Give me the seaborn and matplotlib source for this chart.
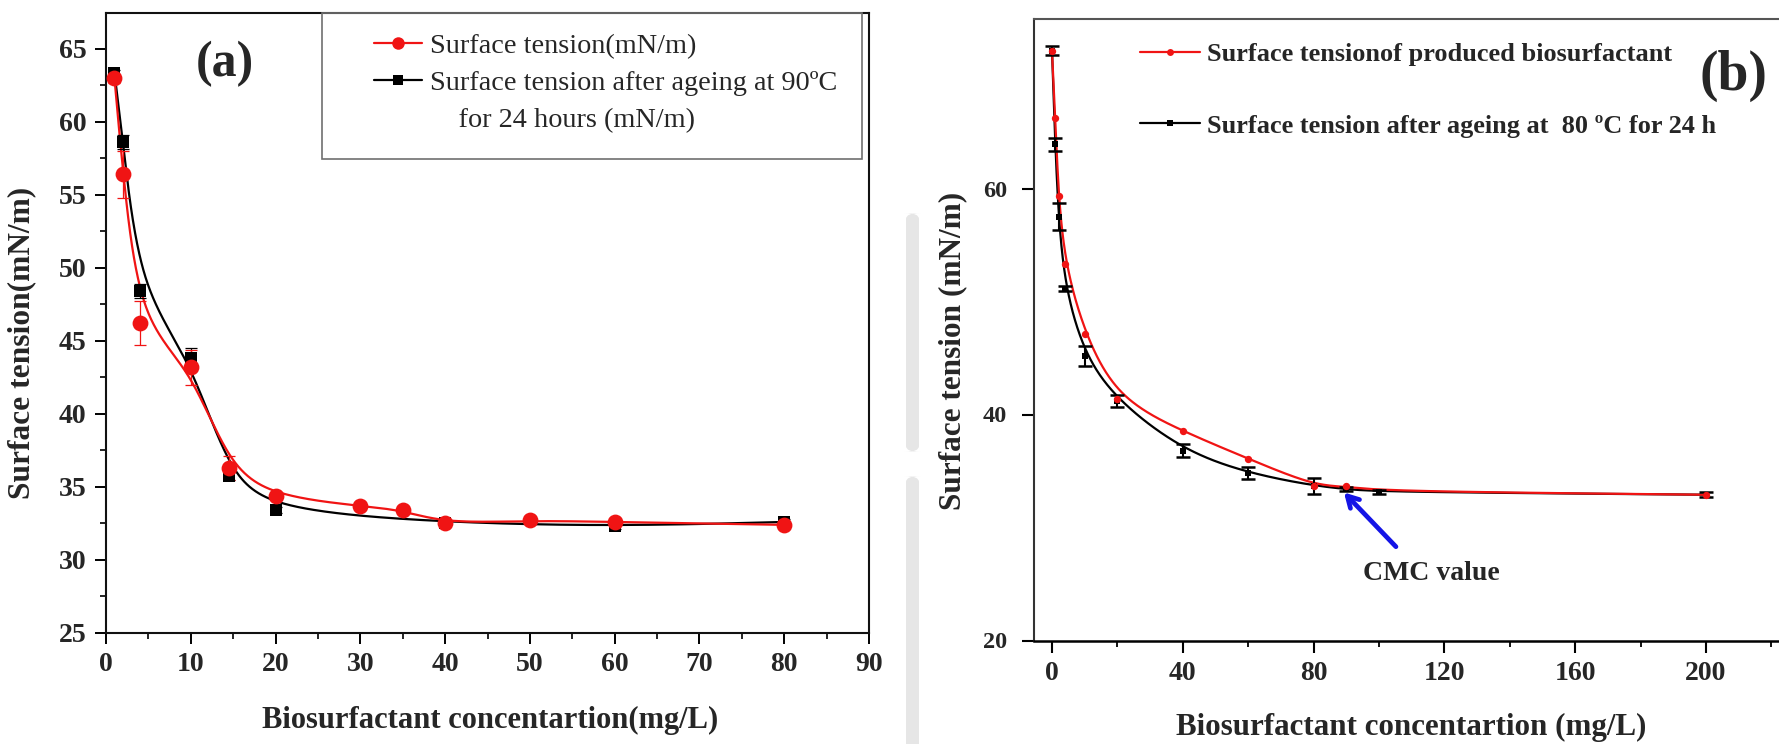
import numpy as np
import pandas as pd
import matplotlib
matplotlib.use("Agg")
import matplotlib.pyplot as plt
import seaborn as sns
from matplotlib.lines import Line2D
from matplotlib.patches import Rectangle, FancyBboxPatch
from matplotlib.ticker import MultipleLocator

# ---------------- data ----------------
# panel (a)
conc_a_fresh = [1, 2, 4, 10, 14.5, 20, 30, 35, 40, 50, 60, 80]
st_a_fresh = [62.95, 56.4, 46.2, 43.2, 36.3, 34.35, 33.7, 33.4, 32.5, 32.7, 32.6, 32.4]
err_a_fresh = [0.3, 1.6, 1.5, 1.2, 0.8, 0.2, 0.2, 0.2, 0.2, 0.2, 0.2, 0.2]

conc_a_aged = [1, 2, 4, 10, 14.5, 20, 40, 60, 80]
st_a_aged = [63.35, 58.6, 48.4, 43.8, 35.75, 33.4, 32.55, 32.3, 32.6]
err_a_aged = [0.2, 0.5, 0.5, 0.7, 0.3, 0.2, 0.2, 0.2, 0.2]

# panel (b)
conc_b_fresh = [0, 1, 2, 4, 10, 20, 40, 60, 80, 90, 100, 200]
st_b_fresh = [72.2, 66.2, 59.35, 53.3, 47.1, 41.4, 38.5, 36.1, 33.7, 33.65, 33.2, 32.9]

conc_b_aged = [0, 1, 2, 4, 10, 20, 40, 60, 80, 90, 100, 200]
st_b_aged = [72.2, 63.9, 57.5, 51.15, 45.2, 41.2, 36.8, 34.8, 33.7, 33.4, 33.15, 32.9]
err_b_aged = [0.4, 0.55, 1.2, 0.25, 0.9, 0.5, 0.55, 0.55, 0.7, 0.2, 0.2, 0.2]

xticks_a = [0, 10, 20, 30, 40, 50, 60, 70, 80, 90]
yticks_a = [25, 30, 35, 40, 45, 50, 55, 60, 65]
xticks_b = [0, 40, 80, 120, 160, 200]
yticks_b = [20, 40, 60]

RED = "#f01414"
BLACK = "#000000"


def bspline_curve(x, y, n_per=60):
    """Clamped uniform cubic B-spline using the measured points as control points."""
    P = np.column_stack([np.asarray(x, float), np.asarray(y, float)])
    P = np.vstack([P[0], P[0], P, P[-1], P[-1]])
    t = np.linspace(0, 1, n_per)[:, None]
    b0 = (1 - t) ** 3 / 6
    b1 = (3 * t**3 - 6 * t**2 + 4) / 6
    b2 = (-3 * t**3 + 3 * t**2 + 3 * t + 1) / 6
    b3 = t**3 / 6
    pts = [b0 * P[i] + b1 * P[i + 1] + b2 * P[i + 2] + b3 * P[i + 3]
           for i in range(len(P) - 3)]
    pts = np.vstack(pts)
    return pd.DataFrame({"conc": pts[:, 0], "st": pts[:, 1]})


sns.set_style("ticks")
plt.rcParams["font.family"] = ["Liberation Serif", "DejaVu Serif"]
plt.rcParams["axes.unicode_minus"] = False

W, H = 1779, 744
fig = plt.figure(figsize=(W / 100, H / 100), dpi=100)
fig.patch.set_facecolor("white")


def px_rect(l, t, r, b):
    return [l / W, 1 - b / H, (r - l) / W, (b - t) / H]


# faint vertical strip between the panels
for (t, b) in [(213, 452), (476, 760)]:
    fig.patches.append(FancyBboxPatch(
        (906 / W, 1 - b / H), 13 / W, (b - t) / H,
        boxstyle="round,pad=0,rounding_size=0.008",
        transform=fig.transFigure, facecolor="#e6e6e6", edgecolor="none",
        zorder=0))

# ================= panel (a) =================
axA = fig.add_axes(px_rect(106, 12.7, 869, 633))
curve = bspline_curve(conc_a_aged, st_a_aged)
sns.lineplot(data=curve, x="conc", y="st", ax=axA, color=BLACK, lw=1.6,
             sort=False, zorder=2, legend=False)
curve = bspline_curve(conc_a_fresh, st_a_fresh)
sns.lineplot(data=curve, x="conc", y="st", ax=axA, color=RED, lw=1.6,
             sort=False, zorder=3, legend=False)
axA.errorbar(conc_a_aged, st_a_aged, yerr=err_a_aged, fmt="none",
             ecolor=BLACK, elinewidth=0.9, capsize=4, capthick=0.9, zorder=3)
axA.errorbar(conc_a_fresh, st_a_fresh, yerr=err_a_fresh, fmt="none",
             ecolor=RED, elinewidth=0.9, capsize=4, capthick=0.9, zorder=4)
sns.scatterplot(x=conc_a_aged, y=st_a_aged, ax=axA, marker="s", s=75,
                color=BLACK, edgecolor=BLACK, linewidth=0, zorder=4)
sns.scatterplot(x=conc_a_fresh, y=st_a_fresh, ax=axA, marker="o", s=130,
                color=RED, edgecolor=RED, linewidth=0, zorder=5)

axA.set_xlim(0, 90)
axA.set_ylim(25, 67.45)
axA.set_xticks(xticks_a)
axA.set_yticks(yticks_a)
axA.xaxis.set_minor_locator(MultipleLocator(5))
axA.yaxis.set_minor_locator(MultipleLocator(2.5))
axA.tick_params(axis="both", which="major", direction="out", length=8,
                width=1.4, color=BLACK, top=False, right=False)
axA.tick_params(axis="both", which="minor", direction="out", length=4.5,
                width=1.2, color=BLACK, top=False, right=False)
axA.tick_params(axis="x", labelsize=20, pad=6)
axA.tick_params(axis="y", labelsize=20, pad=6)
for lab in axA.get_xticklabels() + axA.get_yticklabels():
    lab.set_fontweight("bold")
for sp in axA.spines.values():
    sp.set_linewidth(1.5)
    sp.set_color("#111111")

axA.set_xlabel("Biosurfactant concentartion(mg/L)", fontsize=22,
               fontweight="bold")
axA.set_ylabel("Surface tension(mN/m)", fontsize=22.6, fontweight="bold")
axA.xaxis.label.set_va("center")
axA.yaxis.label.set_va("center")
axA.xaxis.set_label_coords((490 - 106) / 763, (633 - 720) / 620.3)
axA.yaxis.set_label_coords((22 - 106) / 763, (633 - 343) / 620.3)

# legend frame (a)
fig.patches.append(Rectangle((322 / W, 1 - 159 / H), (862 - 322) / W,
                             (159 - 12.7) / H, transform=fig.transFigure,
                             facecolor="none", edgecolor="#707070", lw=1.2,
                             zorder=6))
handles_a = [
    Line2D([], [], color=RED, lw=1.6, marker="o", markersize=9,
           markeredgewidth=0),
    Line2D([], [], color=BLACK, lw=1.6, marker="s", markersize=7,
           markeredgewidth=0),
    Line2D([], [], color="none", lw=0),
]
labels_a = ["Surface tension(mN/m)",
            "Surface tension after ageing at 90ºC",
            "    for 24 hours (mN/m)"]
legA = fig.legend(handles_a, labels_a, loc="upper left",
                  bbox_to_anchor=(374 / W, 1 - 33 / H),
                  bbox_transform=fig.transFigure, frameon=False,
                  fontsize=20.3, handlelength=1.7, handletextpad=0.27,
                  labelspacing=0.40, borderpad=0, borderaxespad=0)
fig.text(225 / W, 1 - 64 / H, "(a)", fontsize=36, fontweight="bold",
         ha="center", va="center")

# ================= panel (b) =================
axB = fig.add_axes(px_rect(1034, 19, 1786, 640.5))
curve = bspline_curve(conc_b_aged, st_b_aged)
sns.lineplot(data=curve, x="conc", y="st", ax=axB, color=BLACK, lw=1.6,
             sort=False, zorder=2, legend=False)
curve = bspline_curve(conc_b_fresh, st_b_fresh)
sns.lineplot(data=curve, x="conc", y="st", ax=axB, color=RED, lw=1.6,
             sort=False, zorder=3, legend=False)
axB.errorbar(conc_b_aged, st_b_aged, yerr=err_b_aged, fmt="none",
             ecolor=BLACK, elinewidth=1.5, capsize=5, capthick=1.8, zorder=4)
sns.scatterplot(x=conc_b_aged, y=st_b_aged, ax=axB, marker="s", s=18,
                color=BLACK, edgecolor=BLACK, linewidth=0, zorder=4)
sns.scatterplot(x=conc_b_fresh[:-2] + conc_b_fresh[-1:],
                y=st_b_fresh[:-2] + st_b_fresh[-1:], ax=axB, marker="o",
                s=28, color=RED, edgecolor=RED, linewidth=0, zorder=5)

axB.set_xlim(-5.5, 224.5)
axB.set_ylim(20, 75)
axB.set_xticks(xticks_b)
axB.set_yticks(yticks_b)
axB.xaxis.set_minor_locator(MultipleLocator(20))
axB.tick_params(axis="both", which="major", direction="out", length=8.5,
                width=1.5, color=BLACK, top=False, right=False)
axB.tick_params(axis="x", which="minor", direction="out", length=4.5,
                width=1.3, color=BLACK, top=False)
axB.tick_params(axis="x", labelsize=20, pad=6)
axB.tick_params(axis="y", labelsize=17.5, pad=11)
for lab in axB.get_xticklabels() + axB.get_yticklabels():
    lab.set_fontweight("bold")
axB.spines["bottom"].set_linewidth(1.8)
axB.spines["bottom"].set_color(BLACK)
axB.spines["left"].set_linewidth(1.5)
axB.spines["left"].set_color("#333333")
axB.spines["top"].set_linewidth(1.5)
axB.spines["top"].set_color("#555555")
axB.spines["right"].set_visible(False)

axB.set_xlabel("Biosurfactant concentartion (mg/L)", fontsize=22.3,
               fontweight="bold")
axB.set_ylabel("Surface tension (mN/m)", fontsize=22.5, fontweight="bold")
axB.xaxis.label.set_va("center")
axB.yaxis.label.set_va("center")
axB.xaxis.set_label_coords((1411 - 1034) / 752, (640.5 - 727) / 621.5)
axB.yaxis.set_label_coords((953 - 1034) / 752, (640.5 - 351) / 621.5)

handles_b = [
    Line2D([], [], color=RED, lw=1.6, marker="o", markersize=5,
           markeredgewidth=0),
    Line2D([], [], color=BLACK, lw=1.6, marker="s", markersize=4,
           markeredgewidth=0),
]
labels_b = ["Surface tensionof produced biosurfactant",
            "Surface tension after ageing at  80 ºC for 24 h"]
legB = fig.legend(handles_b, labels_b, loc="upper left",
                  bbox_to_anchor=(1140 / W, 1 - 43 / H),
                  bbox_transform=fig.transFigure, frameon=False,
                  prop={"weight": "bold", "size": 18.9},
                  handlelength=2.3, handletextpad=0.27,
                  labelspacing=1.82, borderpad=0, borderaxespad=0)
fig.text(1734 / W, 1 - 76 / H, "(b)", fontsize=40, fontweight="bold",
         ha="center", va="center")

# CMC annotation
axB.annotate("", xy=(89.3, 33.1), xytext=(105.2, 28.3),
             arrowprops=dict(arrowstyle="->,head_length=0.8,head_width=0.45",
                             color="#1414e6", lw=3.4, shrinkA=0, shrinkB=0),
             zorder=6)
axB.text(116, 25.9, "CMC value", fontsize=20, fontweight="bold",
         ha="center", va="center")

fig.savefig("out.png", dpi=100, facecolor="white")
